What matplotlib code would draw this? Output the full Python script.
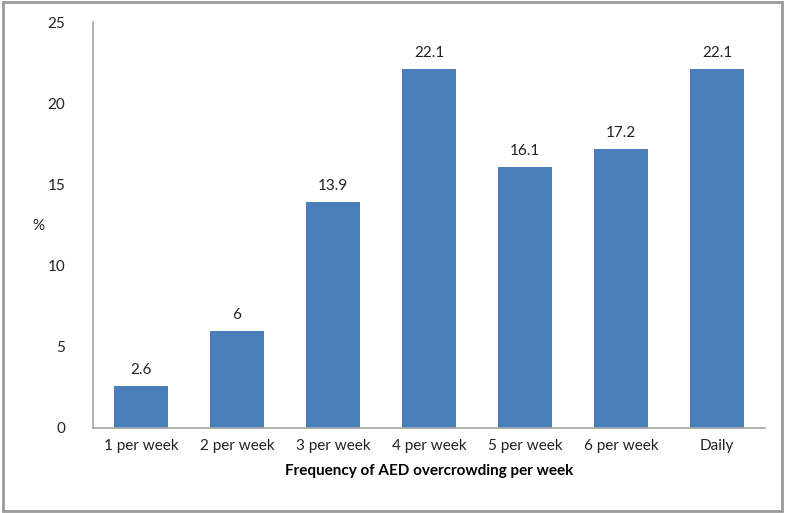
import matplotlib.pyplot as plt
from matplotlib.patches import Rectangle

categories = ["1 per week", "2 per week", "3 per week", "4 per week",
              "5 per week", "6 per week", "Daily"]
values = [2.6, 6, 13.9, 22.1, 16.1, 17.2, 22.1]
value_labels = ["2.6", "6", "13.9", "22.1", "16.1", "17.2", "22.1"]
y_ticks = [0, 5, 10, 15, 20, 25]

plt.rcParams["font.family"] = ["Lato", "DejaVu Sans"]

fig = plt.figure(figsize=(7.85, 5.13), dpi=100)
ax = fig.add_axes([0.1185, 0.1657, 0.856, 0.7913])

x = range(len(categories))
ax.bar(x, values, width=0.56, color="#4a7ebb", zorder=2)
for xi, v, lab in zip(x, values, value_labels):
    ax.text(xi, v + 0.55, lab, ha="center", va="bottom", fontsize=11, color="#222222")

ax.set_xlim(-0.5, len(categories) - 0.5)
ax.set_ylim(0, 25)
ax.set_yticks(y_ticks)
ax.set_xticks(list(x))
ax.set_xticklabels(categories)
ax.tick_params(axis="both", length=0, labelsize=11, colors="#222222")
ax.tick_params(axis="y", pad=20)
ax.tick_params(axis="x", pad=8)

for s in ["top", "right"]:
    ax.spines[s].set_visible(False)
ax.spines["left"].set_color("#a6a6a6")
ax.spines["bottom"].set_color("#a6a6a6")
ax.spines["left"].set_linewidth(1.2)
ax.spines["bottom"].set_linewidth(1.2)

ax.set_xlabel("Frequency of AED overcrowding per week", fontsize=11,
              fontweight="bold", labelpad=8)
# "%" y-axis label, unrotated, left of the tick labels
fig.text(38 / 785, 1 - 226 / 513, "%", fontsize=11, ha="center", va="center",
         color="#222222")

# outer frame
fig.patches.append(Rectangle((0.004, 0.004), 0.992, 0.992, transform=fig.transFigure,
                             fill=False, edgecolor="#9a9a9a", linewidth=2))

fig.savefig("out.png", dpi=100)
